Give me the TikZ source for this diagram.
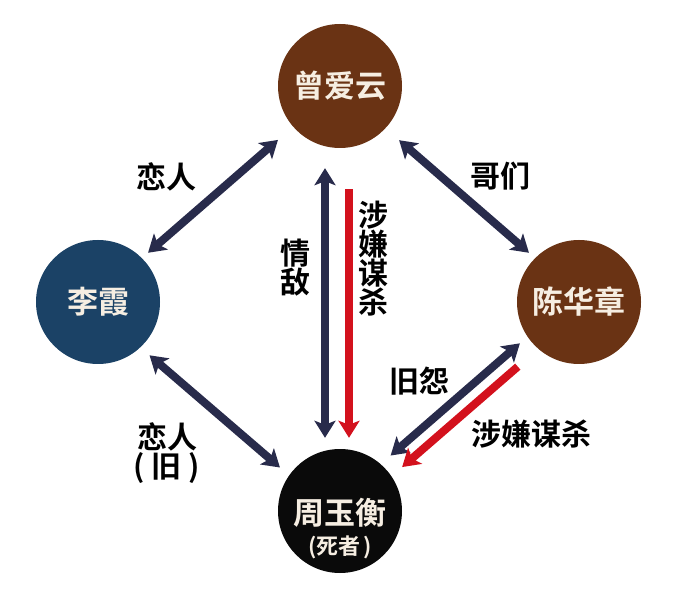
\documentclass[tikz,border=0pt]{standalone}
\usepackage{fontspec}
\newfontfamily\cjk{Noto Sans CJK SC}[BoldFont={* Bold}]
\usetikzlibrary{arrows.meta,calc}
\definecolor{brownc}{HTML}{6A3314}
\definecolor{navyc}{HTML}{1B4266}
\definecolor{blackc}{HTML}{0A0A0A}
\definecolor{arrowc}{HTML}{282B4B}
\definecolor{redc}{HTML}{D3111D}
\definecolor{nodetext}{HTML}{F6EEE2}
\tikzset{
  person/.style={circle, minimum size=124pt, inner sep=0pt, text=nodetext,
    font=\cjk\bfseries\fontsize{31}{34}\selectfont},
  ntext/.style={inner sep=0pt, text=nodetext},
  lbl/.style={font=\cjk\bfseries\fontsize{30}{29}\selectfont, text=black, inner sep=0pt, align=center},
  tipS/.tip={Stealth[length=17pt,width=21pt,inset=4pt]},
  dbl/.style={arrowc, line width=8pt, tipS-tipS},
  sgl/.style={redc, line width=8pt, -tipS},
}
\begin{document}
\begin{tikzpicture}[x=1pt,y=-1pt]
\useasboundingbox[fill=white] (0,0) rectangle (688,601);
\node[person, fill=brownc] (zeng) at (340,86) {曾爱云};
\node[person, fill=navyc] (li) at (98,302) {李霞};
\node[person, fill=brownc] (chen) at (579,302) {陈华章};
\node[person, fill=blackc] (zhou) at (340,511) {};
\node[ntext, font=\cjk\bfseries\fontsize{31}{34}\selectfont] (zhouname) at ([yshift=-2pt]zhou.center) {周玉衡};
\node[ntext, font=\cjk\bfseries\fontsize{22}{24}\selectfont] (zhounote) at ([yshift=-36pt]zhou.center) {(死者\hspace{3pt})};

% connectors
\draw[dbl, shorten <=20pt, shorten >=8pt] (zeng.221.6) -- (li.45);
\draw[dbl, shorten <=18pt, shorten >=8pt] (zeng.317) -- (chen.135);
\draw[dbl, shorten <=12pt, shorten >=12pt] (li.313.4) -- (zhou.145.3);
\draw[dbl, shorten <=20pt, shorten >=11pt] ([xshift=-15pt]zeng.south) -- ([xshift=-15pt]zhou.north);
\draw[sgl, shorten <=41pt, shorten >=11pt] ([xshift=9pt]zeng.south) -- ([xshift=9pt]zhou.north);
\draw[dbl, shorten <=10pt, shorten >=13pt] (chen.214) -- (zhou.49);
\draw[sgl, shorten <=27pt, shorten >=14pt] (chen.229) -- (zhou.34);

% labels
\node[lbl] (l1) at (166,177) {恋人};
\node[lbl] (l2) at (500,176) {哥们};
\node[lbl] (l3) at (295,268) {情\\敌};
\node[lbl] (l4) at (373,259) {涉\\嫌\\谋\\杀};
\node[lbl] (l5) at (419,381) {旧怨};
\node[lbl] (l6) at (531,434) {涉嫌谋杀};
\node[lbl] (l7) at (167,453) {恋人\\(\hspace{7pt}旧\hspace{7pt})};
\end{tikzpicture}
\end{document}
